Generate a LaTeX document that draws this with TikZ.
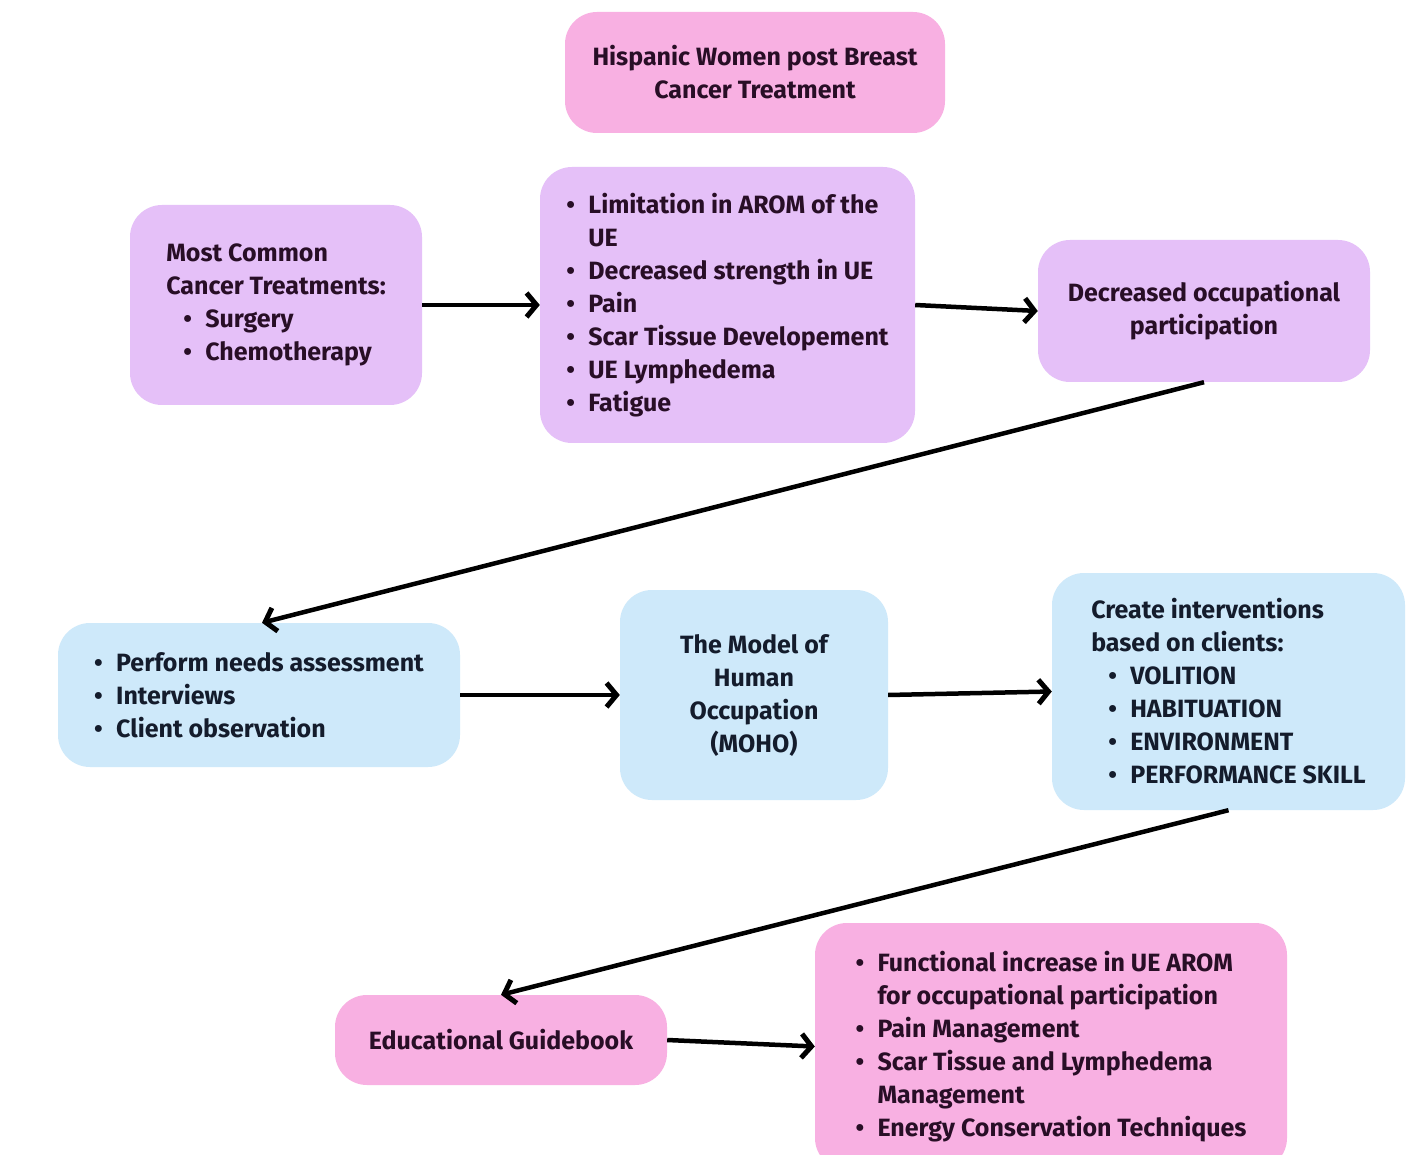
\documentclass[tikz,border=0pt]{standalone}
\usepackage{fontspec}
\setmainfont{Fira Sans}
\usetikzlibrary{arrows.meta}
\definecolor{pinkbox}{RGB}{248,176,226}
\definecolor{purplebox}{RGB}{229,192,248}
\definecolor{bluebox}{RGB}{206,233,250}
\definecolor{plumtext}{RGB}{40,14,38}
\definecolor{navytext}{RGB}{20,28,44}
\newcommand{\bul}{\makebox[22pt][l]{\textbullet}}
\newcommand{\ind}{\hspace*{22pt}}
\newcommand{\sub}{\hspace*{17pt}}
\tikzset{
  box/.style={rounded corners=32pt, inner sep=0pt, font=\fontsize{25}{33}\selectfont\bfseries},
  pinkb/.style={box, fill=pinkbox, text=plumtext},
  purpleb/.style={box, fill=purplebox, text=plumtext},
  blueb/.style={box, fill=bluebox, text=navytext},
  flow/.style={line width=4.5pt, -{Straight Barb[length=10pt,width=24pt,line width=5pt]}}
}
\begin{document}
\begin{tikzpicture}[x=1pt,y=-1pt]
\useasboundingbox (0,0) rectangle (1425,1155);
\clip (0,0) rectangle (1425,1155);
\fill[white] (0,0) rectangle (1425,1155);

\node[pinkb, minimum width=380pt, minimum height=121pt, align=center] (top) at (755,72.5)
  {Hispanic Women post Breast\\Cancer Treatment};

\node[purpleb, minimum width=292pt, minimum height=200pt, align=left] (treat) at (276,305)
  {Most Common\\Cancer Treatments:\\\sub\bul Surgery\\\sub\bul Chemotherapy};

\node[purpleb, minimum width=375pt, minimum height=276pt, align=left] (effects) at (727.5,305)
  {\bul Limitation in AROM of the\\\ind UE\\\bul Decreased strength in UE\\\bul Pain\\\bul Scar Tissue Developement\\\bul UE Lymphedema\\\bul Fatigue};

\node[purpleb, minimum width=332pt, minimum height=142pt, align=center] (decr) at (1204,311)
  {Decreased occupational\\participation};

\node[blueb, minimum width=402pt, minimum height=144pt, align=left] (assess) at (259,695)
  {\bul Perform needs assessment\\\bul Interviews\\\bul Client observation};

\node[blueb, minimum width=268pt, minimum height=210pt, align=center] (moho) at (754,695)
  {The Model of\\Human\\Occupation\\(MOHO)};

\node[blueb, minimum width=353pt, minimum height=237pt, align=left] (interv) at (1228.5,691.5)
  {Create interventions\\based on clients:\\\sub\bul VOLITION\\\sub\bul HABITUATION\\\sub\bul ENVIRONMENT\\\sub\bul PERFORMANCE SKILL};

\node[pinkb, minimum width=332pt, minimum height=90pt, align=center] (guide) at (501,1040)
  {Educational Guidebook};

\node[pinkb, minimum width=472pt, minimum height=247pt, align=left] (outcome) at (1051,1046.5)
  {\bul Functional increase in UE AROM\\\ind for occupational participation\\\bul Pain Management\\\bul Scar Tissue and Lymphedema\\\ind Management\\\bul Energy Conservation Techniques};

\draw[flow] (treat.east) -- (effects.west);
\draw[flow] (effects.east) -- (decr.west);
\draw[flow] (decr.south) -- ([xshift=3pt]assess.north);
\draw[flow] (assess.east) -- (moho.west);
\draw[flow] (moho.east) -- (interv.west);
\draw[flow] (interv.south) -- (guide.north);
\draw[flow] (guide.east) -- (outcome.west);
\end{tikzpicture}
\end{document}
